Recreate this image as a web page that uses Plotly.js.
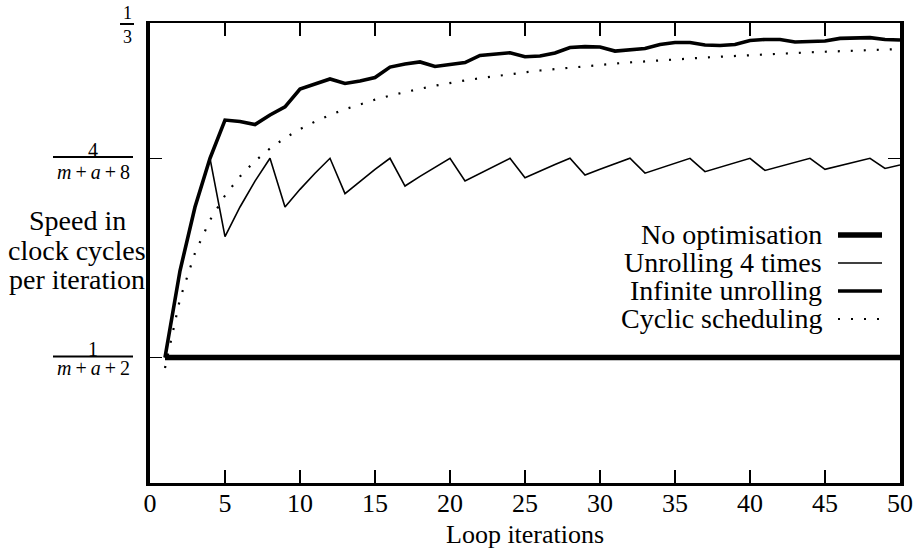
<!DOCTYPE html>
<html>
<head>
<meta charset="utf-8">
<script src="https://cdn.plot.ly/plotly-3.0.1.min.js"></script>
<style>html,body{margin:0;padding:0;background:#fff;}#chart{width:917px;height:554px;}</style>
</head>
<body>
<div id="chart"></div>
<script>
// ---- data ----
const iterations = [1,2,3,4,5,6,7,8,9,10,11,12,13,14,15,16,17,18,19,20,21,22,23,24,25,26,27,28,29,30,31,32,33,34,35,36,37,38,39,40,41,42,43,44,45,46,47,48,49,50];
const noOptimisation = [0.0909,0.0909,0.0909,0.0909,0.0909,0.0909,0.0909,0.0909,0.0909,0.0909,0.0909,0.0909,0.0909,0.0909,0.0909,0.0909,0.0909,0.0909,0.0909,0.0909,0.0909,0.0909,0.0909,0.0909,0.0909,0.0909,0.0909,0.0909,0.0909,0.0909,0.0909,0.0909,0.0909,0.0909,0.0909,0.0909,0.0909,0.0909,0.0909,0.0909,0.0909,0.0909,0.0909,0.0909,0.0909,0.0909,0.0909,0.0909,0.0909,0.0909];
const unrolling4 = [0.0909,0.1538,0.2000,0.2353,0.1786,0.2000,0.2188,0.2353,0.2000,0.2128,0.2245,0.2353,0.2097,0.2188,0.2273,0.2353,0.2152,0.2222,0.2289,0.2353,0.2188,0.2245,0.2300,0.2353,0.2212,0.2261,0.2308,0.2353,0.2231,0.2273,0.2313,0.2353,0.2245,0.2282,0.2318,0.2353,0.2256,0.2289,0.2321,0.2353,0.2265,0.2295,0.2324,0.2353,0.2273,0.2300,0.2327,0.2353,0.2279,0.2304];
const infiniteUnrolling = [0.0909,0.1538,0.2000,0.2353,0.2630,0.2620,0.2598,0.2667,0.2725,0.2855,0.2891,0.2928,0.2895,0.2913,0.2938,0.3014,0.3036,0.3051,0.3018,0.3033,0.3047,0.3098,0.3109,0.3118,0.3089,0.3094,0.3116,0.3156,0.3162,0.3159,0.3130,0.3138,0.3149,0.3178,0.3192,0.3192,0.3174,0.3170,0.3178,0.3207,0.3214,0.3214,0.3196,0.3199,0.3203,0.3222,0.3227,0.3227,0.3214,0.3210];
const cyclicScheduling = [0.0833,0.1333,0.1667,0.1905,0.2083,0.2222,0.2333,0.2424,0.2500,0.2564,0.2619,0.2667,0.2708,0.2745,0.2778,0.2807,0.2833,0.2857,0.2879,0.2899,0.2917,0.2933,0.2949,0.2963,0.2976,0.2989,0.3000,0.3011,0.3021,0.3030,0.3039,0.3048,0.3056,0.3063,0.3070,0.3077,0.3083,0.3089,0.3095,0.3101,0.3106,0.3111,0.3116,0.3121,0.3125,0.3129,0.3133,0.3137,0.3141,0.3145];
const seriesNames = ["No optimisation","Unrolling 4 times","Infinite unrolling","Cyclic scheduling"];
const xTickValues = [0,5,10,15,20,25,30,35,40,45,50];
const yTickValues = [1/11, 4/17, 1/3];
const yTickNumerators = ["1","4","1"];
const yTickDenominators = ["<i>m</i>\u2009+\u2009<i>a</i>\u2009+\u20092","<i>m</i>\u2009+\u2009<i>a</i>\u2009+\u20098","3"];
const yLabelLines = ["Speed in","clock cycles","per iteration"];
const xLabel = "Loop iterations";

// ---- layout helpers (pixel -> paper) ----
const ML = 150, MR = 17, MT = 23, MB = 71, W = 917, H = 554;
const PW = W - ML - MR, PH = H - MT - MB;
const px = x => (x - ML) / PW;
const py = y => (H - MB - y) / PH;

const FONT = "Liberation Serif";
const styles = [
  {width: 5.5, dash: "solid"},
  {width: 1.6, dash: "solid"},
  {width: 3.6, dash: "solid"},
  {width: 2.2, dash: "2px,11px"}
];
const seriesData = [noOptimisation, unrolling4, infiniteUnrolling, cyclicScheduling];

const traces = seriesData.map((ys, i) => ({
  x: iterations, y: ys, type: "scatter", mode: "lines", name: seriesNames[i],
  line: {color: "#000", width: styles[i].width, dash: styles[i].dash},
  showlegend: false, hoverinfo: "skip"
}));

const annotations = [];
const shapes = [];

// legend (text right-aligned, sample to the right)
const legendRows = [235, 263, 291, 319];
seriesNames.forEach((name, i) => {
  annotations.push({xref: "paper", yref: "paper", x: px(824), y: py(legendRows[i] - 1),
    xanchor: "right", yanchor: "middle", text: name, showarrow: false,
    font: {family: FONT, size: 28, color: "#000"}});
  shapes.push({type: "line", xref: "paper", yref: "paper", x0: px(838), x1: px(882),
    y0: py(legendRows[i]), y1: py(legendRows[i]),
    line: {color: "#000", width: styles[i].width, dash: styles[i].dash}});
});

// y label
const yLabelY = [221, 250, 279];
yLabelLines.forEach((t, i) => {
  annotations.push({xref: "paper", yref: "paper", x: px(77), y: py(yLabelY[i]),
    xanchor: "center", yanchor: "middle", text: t, showarrow: false,
    font: {family: FONT, size: 28, color: "#000"}});
});

// x label
annotations.push({xref: "paper", yref: "paper", x: px(525), y: py(534),
  xanchor: "center", yanchor: "middle", text: xLabel, showarrow: false,
  font: {family: FONT, size: 26, color: "#000"}});

// y tick fraction labels
const fracGeom = [
  {cx: 93, num: 348.5, bar: 356.5, den: 368, x0: 53, x1: 133, size: 20},
  {cx: 93, num: 150, bar: 157, den: 172, x0: 53, x1: 133, size: 20},
  {cx: 127, num: 13, bar: 24, den: 36.5, x0: 120, x1: 134, size: 18}
];
yTickValues.forEach((v, i) => {
  const g = fracGeom[i];
  annotations.push({xref: "paper", yref: "paper", x: px(g.cx), y: py(g.num),
    xanchor: "center", yanchor: "middle", text: yTickNumerators[i], showarrow: false,
    font: {family: FONT, size: g.size, color: "#000"}});
  annotations.push({xref: "paper", yref: "paper", x: px(g.cx), y: py(g.den),
    xanchor: "center", yanchor: "middle", text: yTickDenominators[i], showarrow: false,
    font: {family: FONT, size: g.size, color: "#000"}});
  shapes.push({type: "line", xref: "paper", yref: "paper", x0: px(g.x0), x1: px(g.x1),
    y0: py(g.bar), y1: py(g.bar), line: {color: "#000", width: 2}});
});

const layout = {
  width: W, height: H,
  margin: {l: ML, r: MR, t: MT, b: MB, pad: 0},
  paper_bgcolor: "#fff", plot_bgcolor: "#fff",
  font: {family: FONT, color: "#000"},
  showlegend: false,
  xaxis: {
    range: [0, 50], tickvals: xTickValues, ticktext: xTickValues.map(String),
    ticks: "inside", ticklen: 13, tickwidth: 1.5, tickcolor: "#000",
    showline: true, linewidth: 2.5, linecolor: "#000", mirror: "ticks",
    showgrid: false, zeroline: false, ticklabelstandoff: -5,
    tickfont: {family: FONT, size: 26, color: "#000"}, fixedrange: true
  },
  yaxis: {
    range: [0, 1/3], tickvals: yTickValues, showticklabels: false,
    ticks: "inside", ticklen: 12, tickwidth: 1.5, tickcolor: "#000",
    showline: true, linewidth: 4, linecolor: "#000", mirror: "ticks",
    showgrid: false, zeroline: false, fixedrange: true
  },
  annotations: annotations,
  shapes: shapes
};

Plotly.newPlot("chart", traces, layout, {staticPlot: true, displayModeBar: false});
</script>
</body>
</html>
